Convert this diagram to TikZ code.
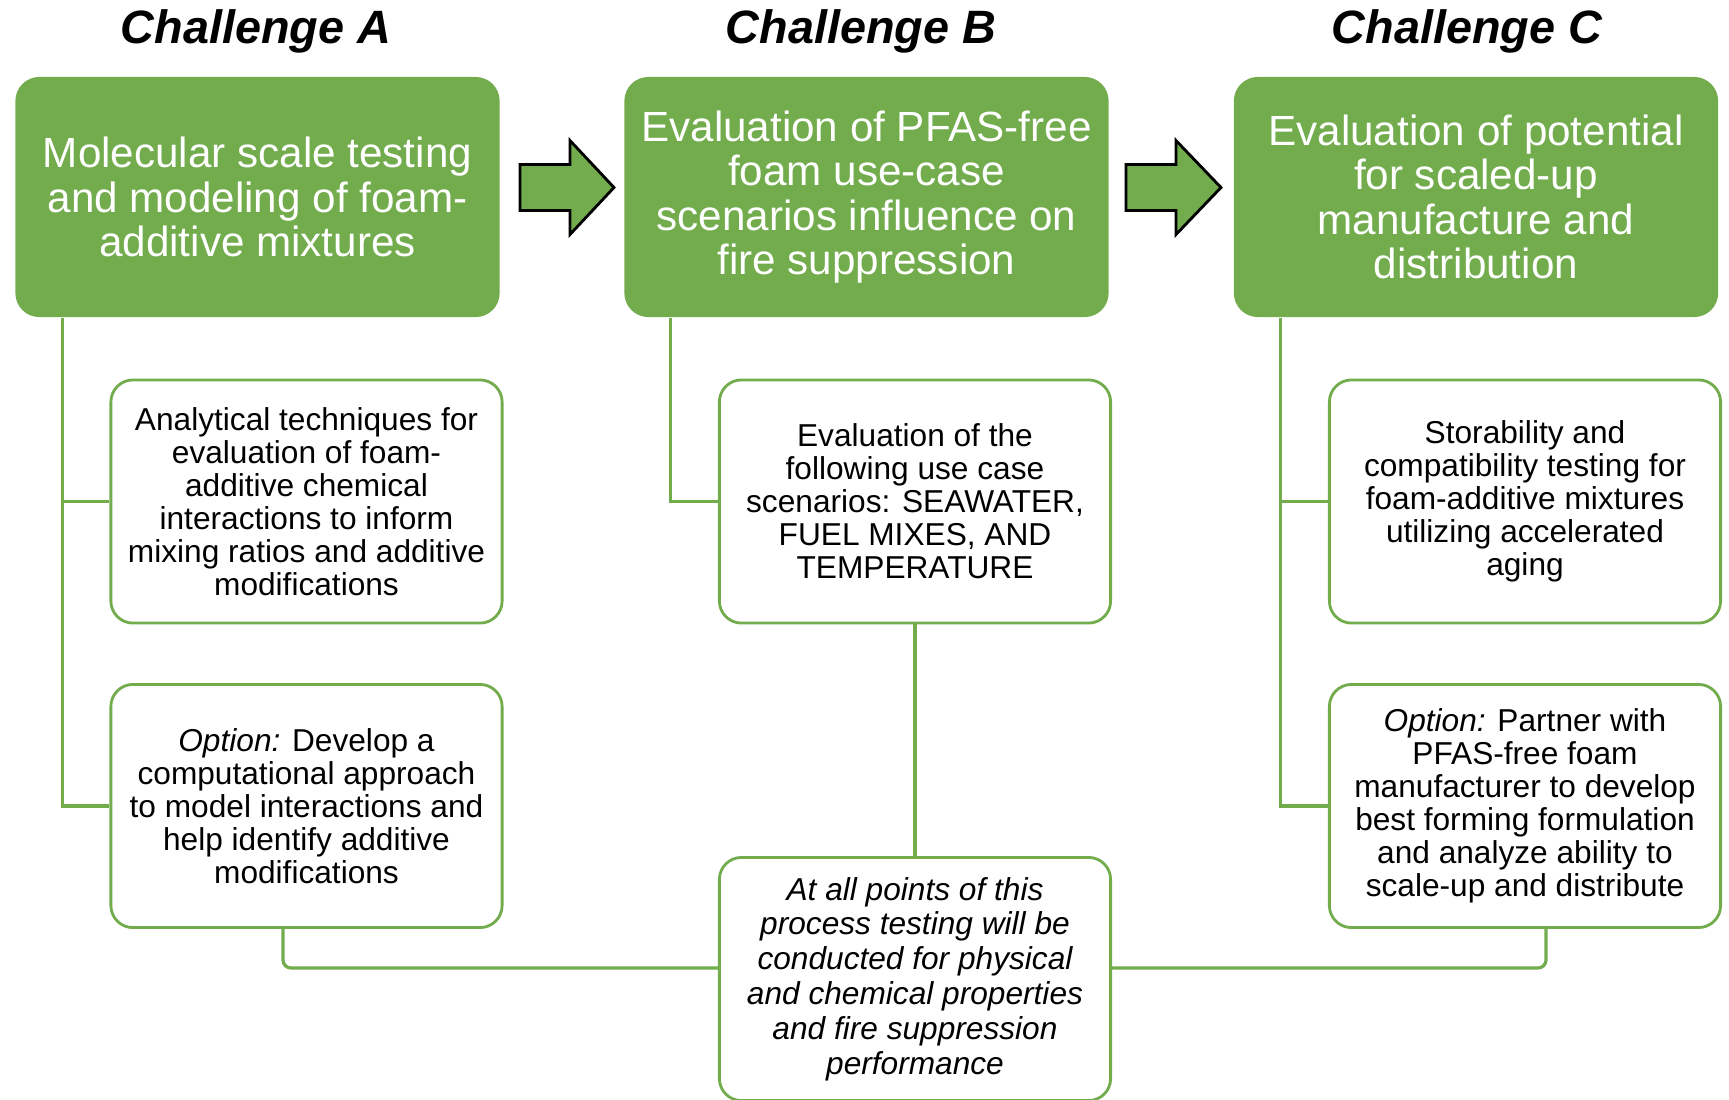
\documentclass[tikz,border=0pt]{standalone}
\usepackage{fontspec}
\setmainfont{Liberation Sans}
\definecolor{leafgreen}{HTML}{72AC4D}
\begin{document}
\begin{tikzpicture}[
        x=0.01cm, y=-0.01cm,
        title/.style={font=\fontsize{13.3}{15}\selectfont\bfseries\itshape},
        stage/.style={rectangle, fill=leafgreen, text=white, rounded corners=0.24cm, minimum width=4.84cm, minimum height=2.40cm, align=center, inner sep=0pt, font=\fontsize{12}{12.6}\selectfont},
        task/.style={rectangle, draw=leafgreen, line width=0.8pt, fill=white, rounded corners=0.22cm, minimum width=3.91cm, minimum height=2.43cm, align=center, inner sep=0pt, font=\fontsize{9}{9.4}\selectfont},
        link/.style={draw=leafgreen, line width=0.9pt},
        bigarrow/.style={draw=black, fill=leafgreen, line width=0.8pt, line join=miter}
    ]
        \useasboundingbox (0,0) rectangle (1729,1099);

        % Titles
        \node[title] (titleA) at (256,31) {Challenge A};
        \node[title] (titleB) at (861,31) {Challenge B};
        \node[title] (titleC) at (1467,31) {Challenge C};

        % Challenge boxes
        \node[stage] (stageA) at (257.5,197) {Molecular scale testing\\and modeling of foam-\\additive mixtures};
        \node[stage] (stageB) at (866.5,197) {Evaluation of PFAS-free\\foam use-case\\scenarios influence on\\fire suppression};
        \node[stage] (stageC) at (1476,197) {Evaluation of potential\\for scaled-up\\manufacture and\\distribution};

        % Arrows between challenges
        \coordinate (arrAB) at (520,187.5);
        \coordinate (arrBC) at (1126,187.5);
        \draw[bigarrow] (arrAB) -- ++(0,-23) -- ++(50,0) -- ++(0,-24) -- ++(44,47) -- ++(-44,47) -- ++(0,-24) -- ++(-50,0) -- cycle;
        \draw[bigarrow] (arrBC) -- ++(0,-23) -- ++(50,0) -- ++(0,-24) -- ++(45,47) -- ++(-45,47) -- ++(0,-24) -- ++(-50,0) -- cycle;

        % Tasks
        \node[task] (taskA1) at (306.5,501.5) {Analytical techniques for\\evaluation of foam-\\additive chemical\\interactions to inform\\mixing ratios and additive\\modifications};
        \node[task] (taskA2) at (306.5,806) {\textit{Option:} Develop a\\computational approach\\to model interactions and\\help identify additive\\modifications};
        \node[task] (taskB1) at (915,501.5) {Evaluation of the\\following use case\\scenarios: SEAWATER,\\FUEL MIXES, AND\\TEMPERATURE};
        \node[task, font=\fontsize{9}{9.9}\selectfont\itshape] (testing) at (915,979) {At all points of this\\process testing will be\\conducted for physical\\and chemical properties\\and fire suppression\\performance};
        \node[task] (taskC1) at (1525,501.5) {Storability and\\compatibility testing for\\foam-additive mixtures\\utilizing accelerated\\aging};
        \node[task] (taskC2) at (1525,806) {\textit{Option:} Partner with\\PFAS-free foam\\manufacturer to develop\\best forming formulation\\and analyze ability to\\scale-up and distribute};

        % Tree lines
        \draw[link] (stageA.south west) ++(48,0) |- (taskA2.west);
        \draw[link] (taskA1.west) -- ++(-48,0);
        \draw[link] (stageB.south west) ++(47,0) |- (taskB1.west);
        \draw[link] (stageC.south west) ++(47,0) |- (taskC2.west);
        \draw[link] (taskC1.west) -- ++(-49,0);
        \draw[link] (taskB1.south) -- (testing.north);
        \draw[link, rounded corners=0.08cm] ([xshift=-0.235cm]taskA2.south) |- ([yshift=0.11cm]testing.west);
        \draw[link, rounded corners=0.08cm] ([xshift=0.21cm]taskC2.south) |- ([yshift=0.11cm]testing.east);

    \end{tikzpicture}
\end{document}
